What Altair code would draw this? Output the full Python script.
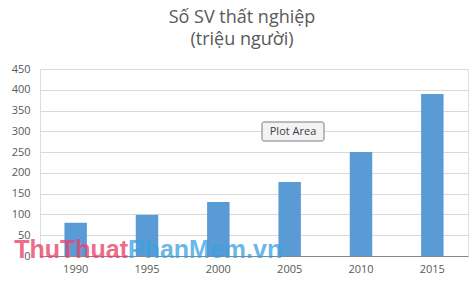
import altair as alt
import pandas as pd

years = ["1990", "1995", "2000", "2005", "2010", "2015"]
values = [80, 99, 130, 178, 250, 390]
y_ticks = [0, 50, 100, 150, 200, 250, 300, 350, 400, 450]
title_lines = ["Số SV thất nghiệp", "(triệu người)"]
watermark_a = ["ThuThuat"]
watermark_b = ["PhanMem.vn"]
tooltip_text = ["Plot Area"]

df = pd.DataFrame({"year": years, "value": values})

FONT = "Open Sans"

bars = alt.Chart(df).mark_bar(color="#5B9BD5").encode(
    x=alt.X(
        "year:N",
        sort=years,
        scale=alt.Scale(paddingInner=0.685, paddingOuter=0.3425),
        axis=alt.Axis(
            title=None, labelAngle=0, ticks=False, domainColor="#868686",
            labelColor="#595959", labelFontSize=11, labelPadding=7, labelFont=FONT,
        ),
    ),
    y=alt.Y(
        "value:Q",
        scale=alt.Scale(domain=[0, 450], nice=False),
        axis=alt.Axis(
            title=None, values=y_ticks, ticks=False, domain=False,
            gridColor="#d9d9d9", labelColor="#595959", labelFontSize=11,
            labelPadding=10, labelFont=FONT,
        ),
    ),
)

tip_box = alt.Chart(pd.DataFrame({"t": tooltip_text})).mark_rect(
    fill="#f3f3f5", stroke="#7a7a7a", strokeWidth=1, cornerRadius=2
).encode(x=alt.value(222), x2=alt.value(284), y=alt.value(53), y2=alt.value(72))

tip_text = alt.Chart(pd.DataFrame({"t": tooltip_text})).mark_text(
    font=FONT, fontSize=11, color="#404040", align="center", baseline="middle"
).encode(text="t:N", x=alt.value(253), y=alt.value(62.5))

wm_a = alt.Chart(pd.DataFrame({"t": watermark_a})).mark_text(
    font="Liberation Sans", fontSize=25, fontWeight="bold", color="#e8436a",
    opacity=0.78, align="right", baseline="alphabetic",
).encode(text="t:N", x=alt.value(88), y=alt.value(189))

wm_b = alt.Chart(pd.DataFrame({"t": watermark_b})).mark_text(
    font="Liberation Sans", fontSize=25, fontWeight="bold", color="#3a9fe0",
    opacity=0.75, align="left", baseline="alphabetic",
).encode(text="t:N", x=alt.value(88), y=alt.value(189))

chart = alt.layer(bars, tip_box, tip_text, wm_a, wm_b).properties(
    width=428,
    height=187,
    autosize=alt.AutoSizeParams(type="none"),
    padding={"left": 40, "top": 69, "right": 8, "bottom": 32},
    title=alt.TitleParams(
        text=title_lines, font=FONT, fontSize=18, fontWeight="normal",
        color="#595959", anchor="middle", offset=14, lineHeight=22, dx=-12,
    ),
).configure_view(stroke="#a6a6a6", strokeWidth=1).configure(background="white")

chart.save("out.html", embed_options={"renderer": "svg", "actions": False})
